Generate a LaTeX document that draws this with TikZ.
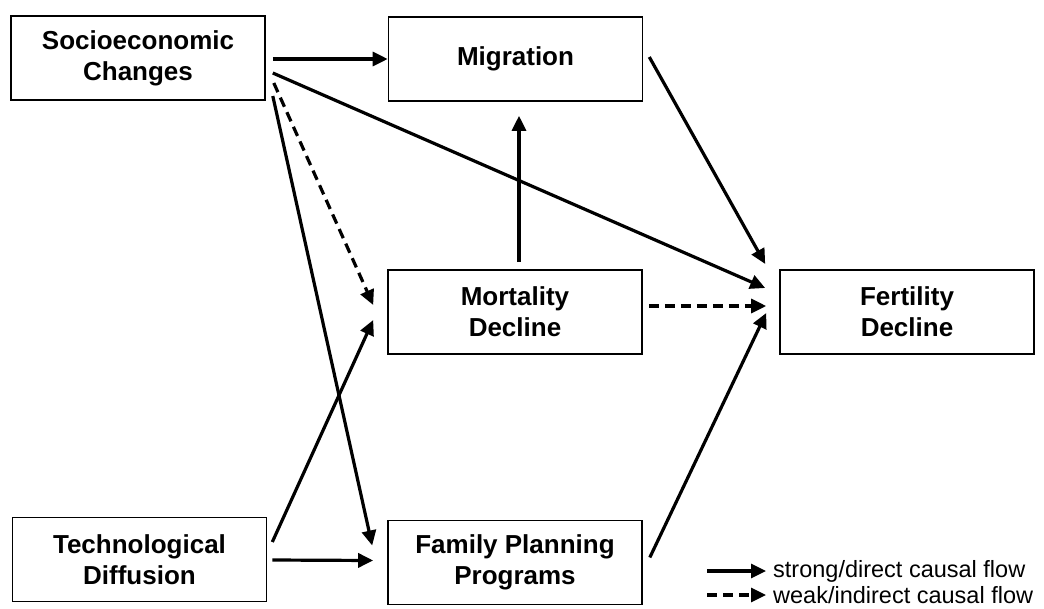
\documentclass[tikz,border=0pt]{standalone}
\usepackage{fontspec}
\setmainfont{Liberation Sans}
\usetikzlibrary{arrows.meta}
\begin{document}
\begin{tikzpicture}[x=1pt,y=-1pt,
  box/.style={draw,line width=1.6pt,minimum width=254pt,minimum height=84pt,inner sep=0pt,
    align=center,font=\fontsize{26}{31}\selectfont\bfseries},
  flow/.style={line width=3.2pt,-{Triangle[length=15pt,width=14pt]}},
  weak/.style={flow,dash pattern=on 10pt off 6pt},
  legtext/.style={anchor=west,inner sep=0pt,font=\fontsize{23.5}{26}\selectfont}]
\useasboundingbox (0,0) rectangle (1044,608);
\node[box] (soc) at (138,58) {Socioeconomic\\Changes};
\node[box] (mig) at (515.5,59) {Migration};
\node[box] (mor) at (515,312) {Mortality\\Decline};
\node[box] (fer) at (907,312) {Fertility\\Decline};
\node[box] (tec) at (139.5,559.5) {Technological\\Diffusion};
\node[box] (fam) at (515,562.5) {Family Planning\\Programs};
% socioeconomic
\draw[flow] ([shift={(7,1)}]soc.east) -- (mig.west);
\draw[flow] ([shift={(7,15)}]soc.east) -- ([shift={(-14,-24)}]fer.west);
\draw[weak] ([shift={(8,25)}]soc.east) -- ([shift={(-14,-7)}]mor.west);
\draw[flow] ([shift={(7,38)}]soc.east) -- ([shift={(-15,-17)}]fam.west);
% technological
\draw[flow] ([shift={(5,-17.5)}]tec.east) -- ([shift={(-14,8)}]mor.west);
\draw[flow] ([shift={(5,0.5)}]tec.east) -- ([shift={(-14,-2)}]fam.west);
% mortality
\draw[flow] ([shift={(4,-7)}]mor.north) -- ([shift={(3.5,14)}]mig.south);
\draw[weak] ([shift={(6,-6)}]mor.east) -- ([shift={(-13,-6)}]fer.west);
% to fertility
\draw[flow] ([shift={(6,-2)}]mig.east) -- ([shift={(-14,-48)}]fer.west);
\draw[flow] ([shift={(7,-5)}]fam.east) -- ([shift={(-13,1)}]fer.west);
% legend
\coordinate (l1a) at (707,571);
\coordinate (l1b) at (766,571);
\coordinate (l2a) at (707,595);
\coordinate (l2b) at (766,595);
\draw[flow] (l1a) -- (l1b);
\draw[weak] (l2a) -- (l2b);
\node[legtext] (t1) at (773,571) {strong/direct causal flow};
\node[legtext] (t2) at (773,595) {weak/indirect causal flow};
\end{tikzpicture}
\end{document}
